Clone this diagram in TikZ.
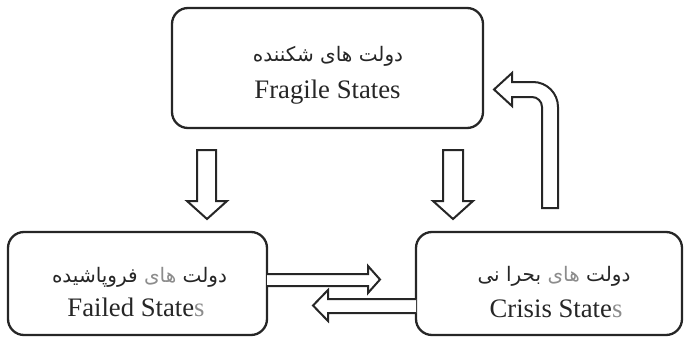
\documentclass[tikz,border=0pt]{standalone}
\usepackage{fontspec}
\setmainfont{Liberation Serif}
\newfontfamily\arabicfont[Script=Arabic]{DejaVu Sans}
\TeXXeTstate=1
\definecolor{lightgrey}{gray}{0.55}
\newcommand{\rtlw}[1]{\beginR #1\endR}
\begin{document}
\begin{tikzpicture}[x=1pt,y=-1pt,
  box/.style={draw=black!85,line width=2.3pt,rounded corners=16pt},
  en/.style={inner sep=0pt,anchor=base,font=\fontsize{26.7}{30}\selectfont,text=black!85},
  fa/.style={inner sep=0pt,anchor=base,font=\arabicfont\fontsize{20}{24}\selectfont,text=black!85},
  blockarrow/.style={draw=black!85,line width=2pt,fill=white,line join=miter}]
\useasboundingbox (0,0) rectangle (685,337);
% boxes
\draw[box] (172,8) rectangle (483,128);
\node[inner sep=0pt] (fragile) at (327.5,68) {};
\draw[box] (8,232) rectangle (267,335);
\node[inner sep=0pt] (failed) at (137.5,283.5) {};
\draw[box] (416,232) rectangle (682,335);
\node[inner sep=0pt] (crisis) at (549,283.5) {};
% texts
\node[fa] (fragfa) at (328,62) {\rtlw{شکننده} \rtlw{های} \rtlw{دولت}};
\node[en] (fragen) at (327.5,98) {Fragile States};
\node[fa] (failfa) at (139.5,282) {\rtlw{فروپاشیده} {\color{lightgrey}\rtlw{های}} \rtlw{دولت}};
\node[en] (failen) at (136,316) {Failed State{\color{lightgrey}s}};
\node[fa] (crisfa) at (554,281) {\rtlw{نی} \rtlw{بحرا} {\color{lightgrey}\rtlw{های}} \rtlw{دولت}};
\node[en] (crisen) at (556,317) {Crisis State{\color{lightgrey}s}};
% down arrows
\draw[blockarrow] (197,150) -- (216,150) -- (216,201) -- (227,201) -- (207,219) -- (187,201) -- (197,201) -- cycle;
\draw[blockarrow] (443,150) -- (463,150) -- (463,201) -- (473,201) -- (453,219) -- (433,201) -- (443,201) -- cycle;
% horizontal arrows
\draw[blockarrow] (267,274) -- (368,274) -- (368,266) -- (380,279.5) -- (368,293) -- (368,286) -- (267,286);
\draw[blockarrow] (416,299) -- (328,299) -- (328,290) -- (313,305.5) -- (328,321) -- (328,313) -- (416,313);
% curved arrow
\draw[blockarrow] (542,208) -- (558,208) -- (558,107) .. controls (558,93.2) and (546.8,82) .. (533,82)
  -- (512,82) -- (512,73) -- (494,89.5) -- (512,106) -- (512,97) -- (532,97)
  .. controls (537.5,97) and (542,101.5) .. (542,107) -- cycle;
\end{tikzpicture}
\end{document}
